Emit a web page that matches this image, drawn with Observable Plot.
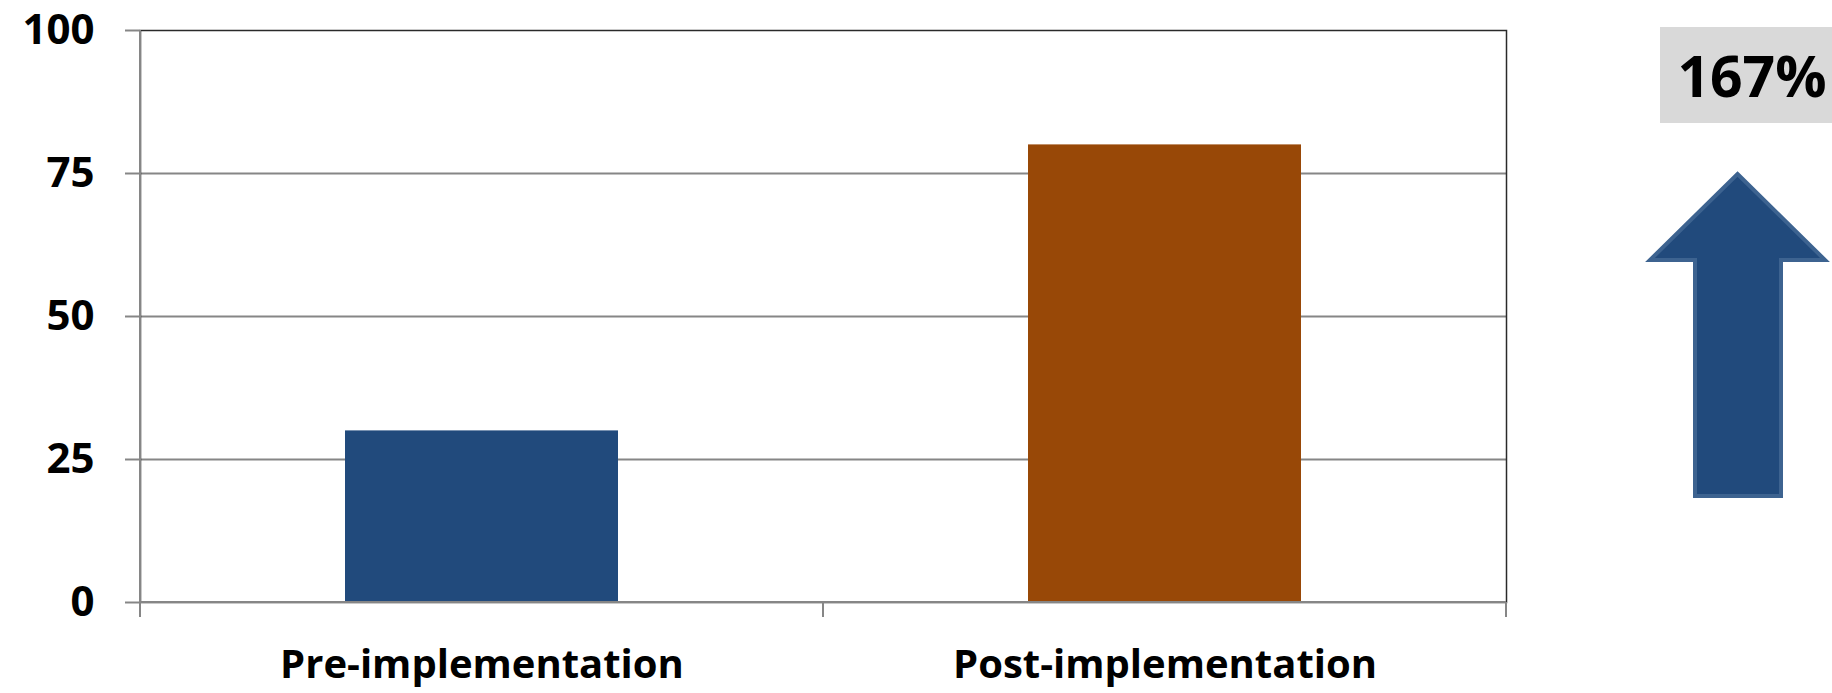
<!DOCTYPE html>
<html>
<head>
<meta charset="utf-8">
<script src="https://cdn.jsdelivr.net/npm/d3@7"></script>
<script src="https://cdn.jsdelivr.net/npm/@observablehq/plot@0.6"></script>
<style>
  html, body { margin: 0; padding: 0; background: #fff; }
  #wrap { position: relative; width: 1832px; height: 693px; }
  #overlay { position: absolute; left: 0; top: 0; pointer-events: none; }
</style>
</head>
<body>
<div id="wrap"></div>
<script>
// ---- data ----
const categories = ["Pre-implementation", "Post-implementation"];
const values = [30, 80];
const barColors = ["#214a7c", "#984807"];
const yTicks = [0, 25, 50, 75, 100];

const data = categories.map((c, i) => ({category: c, value: values[i], color: barColors[i]}));
const pct = Math.round((values[1] - values[0]) / values[0] * 100) + "%";

const GRID = "#868686";
const FONT = "Open Sans";

function axisDecor(index, scales, vals, dimensions) {
  const x = scales.x, y = scales.y;
  const bw = x.bandwidth ? x.bandwidth() : 0;
  const centers = categories.map(c => x(c) + bw / 2);
  const half = (centers[1] - centers[0]) / 2;
  const pos = [centers[0] - half, ...centers.map(c => c + half)];
  const y0 = y(0), yTop = y(100);
  const g = d3.create("svg:g");
  g.append("line").attr("x1", pos[0]).attr("x2", pos[0]).attr("y1", yTop).attr("y2", y0)
    .attr("stroke", GRID).attr("stroke-width", 2);
  g.append("line").attr("x1", pos[0]).attr("x2", pos[pos.length - 1]).attr("y1", y0).attr("y2", y0)
    .attr("stroke", GRID).attr("stroke-width", 2);
  g.selectAll("line.t").data(pos).join("line").attr("class", "t")
    .attr("x1", d => d).attr("x2", d => d).attr("y1", y0).attr("y2", y0 + 15)
    .attr("stroke", GRID).attr("stroke-width", 2);
  return g.node();
}

const chart = Plot.plot({
  width: 1832,
  height: 693,
  marginLeft: 140,
  marginRight: 326,
  marginTop: 30,
  marginBottom: 91,
  style: {fontFamily: FONT, fontWeight: 700, background: "white", color: "black"},
  x: {domain: categories, paddingInner: 0.6, paddingOuter: 0.3, label: null},
  y: {domain: [0, 100], label: null},
  marks: [
    Plot.gridY([25, 50, 75], {stroke: GRID, strokeOpacity: 1, strokeWidth: 2}),
    Plot.frame({stroke: "#2a2a2a", strokeWidth: 1.5}),
    Plot.barY(data, {x: "category", y: "value", fill: "color"}),
    axisDecor,
    Plot.axisY({ticks: yTicks, tickSize: 15, tickPadding: 31, stroke: GRID, strokeWidth: 2,
      fill: "black", fontSize: 42, fontWeight: 700, label: null}),
    Plot.axisX({tickSize: 0, tickPadding: 47, fill: "black", fontSize: 40, fontWeight: 700, label: null})
  ]
});
document.getElementById("wrap").appendChild(chart);

// ---- annotation: percentage box and arrow ----
const ov = d3.select("#wrap").append("svg").attr("id", "overlay")
  .attr("width", 1832).attr("height", 693);
ov.append("rect").attr("x", 1660).attr("y", 27).attr("width", 172).attr("height", 96).attr("fill", "#d9d9d9");
ov.append("text").attr("x", 1752).attr("y", 97).attr("text-anchor", "middle")
  .attr("font-family", FONT).attr("font-weight", 700).attr("font-size", 57).attr("fill", "black")
  .text(pct);
ov.append("path")
  .attr("d", "M1737.5,174 L1825,260 L1781,260 L1781,496 L1695,496 L1695,260 L1650,260 Z")
  .attr("fill", "#214a7c").attr("stroke", "#3d6390").attr("stroke-width", 4).attr("stroke-linejoin", "miter");
</script>
</body>
</html>
